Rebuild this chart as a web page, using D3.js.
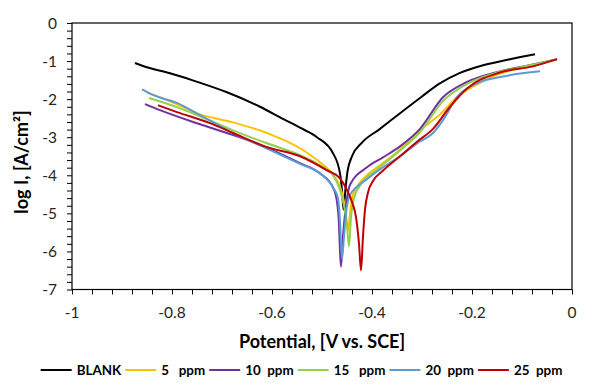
<!DOCTYPE html>
<html><head><meta charset="utf-8">
<script src="https://cdn.jsdelivr.net/npm/d3@7"></script>
<style>body{margin:0;background:#fff}text{font-family:Lato,"Open Sans",sans-serif}</style>
</head><body><svg id="c" width="600" height="389"></svg>
<script>
const seriesNames = ["BLANK", "5   ppm", "10  ppm", "15   ppm", "20  ppm", "25  ppm"];
const seriesColors = ["#000000", "#FFC000", "#7030A0", "#92D050", "#5B9BD5", "#C00000"];

const blankE = [-0.874,-0.858,-0.804,-0.76,-0.69,-0.624,-0.578,-0.544,-0.51,-0.478,-0.464,-0.46,-0.457,-0.453,-0.449,-0.44,-0.42,-0.386,-0.34,-0.3,-0.266,-0.224,-0.178,-0.124,-0.074];
const blankLog = [-1.05,-1.13,-1.32,-1.5,-1.82,-2.2,-2.52,-2.75,-3.0,-3.42,-3.95,-4.4,-4.9,-4.35,-3.9,-3.5,-3.14,-2.8,-2.33,-1.93,-1.6,-1.31,-1.11,-0.95,-0.82];

const ppm5E = [-0.85,-0.8,-0.744,-0.678,-0.61,-0.544,-0.504,-0.478,-0.464,-0.456,-0.452,-0.448,-0.444,-0.44,-0.43,-0.41,-0.378,-0.344,-0.304,-0.264,-0.224,-0.184,-0.144,-0.09,-0.03];
const ppm5Log = [-1.82,-2.08,-2.4,-2.61,-2.89,-3.29,-3.66,-3.98,-4.3,-4.7,-5.1,-5.45,-5.0,-4.6,-4.3,-4.0,-3.68,-3.32,-2.82,-2.4,-1.88,-1.57,-1.33,-1.15,-0.95];

const ppm10E = [-0.854,-0.824,-0.758,-0.69,-0.624,-0.544,-0.504,-0.478,-0.47,-0.466,-0.464,-0.462,-0.458,-0.452,-0.444,-0.41,-0.378,-0.344,-0.304,-0.258,-0.21,-0.144,-0.09,-0.03];
const ppm10Log = [-2.13,-2.29,-2.6,-2.89,-3.2,-3.68,-3.95,-4.32,-4.7,-5.3,-6.0,-6.4,-5.6,-4.8,-4.25,-3.79,-3.53,-3.24,-2.78,-1.95,-1.55,-1.27,-1.12,-0.95];

const ppm15E = [-0.846,-0.79,-0.744,-0.678,-0.61,-0.544,-0.504,-0.478,-0.464,-0.456,-0.45,-0.446,-0.442,-0.436,-0.42,-0.39,-0.344,-0.304,-0.258,-0.21,-0.144,-0.09,-0.035];
const ppm15Log = [-1.97,-2.21,-2.45,-2.82,-3.16,-3.47,-3.74,-4.0,-4.39,-4.8,-5.3,-5.87,-5.1,-4.6,-4.2,-3.85,-3.35,-2.87,-2.05,-1.6,-1.28,-1.13,-0.97];

const ppm20E = [-0.86,-0.838,-0.79,-0.744,-0.678,-0.61,-0.544,-0.504,-0.478,-0.468,-0.464,-0.46,-0.456,-0.452,-0.445,-0.43,-0.41,-0.378,-0.344,-0.31,-0.278,-0.258,-0.23,-0.19,-0.144,-0.064];
const ppm20Log = [-1.74,-1.89,-2.1,-2.42,-2.89,-3.3,-3.7,-3.95,-4.32,-4.6,-5.2,-6.2,-5.6,-5.0,-4.55,-4.3,-4.1,-3.79,-3.5,-3.16,-2.89,-2.55,-1.95,-1.58,-1.42,-1.27];

const ppm25E = [-0.828,-0.79,-0.724,-0.678,-0.61,-0.544,-0.49,-0.464,-0.45,-0.44,-0.432,-0.426,-0.422,-0.418,-0.414,-0.408,-0.398,-0.38,-0.344,-0.31,-0.278,-0.244,-0.21,-0.144,-0.078,-0.03];
const ppm25Log = [-2.16,-2.34,-2.63,-2.89,-3.26,-3.5,-3.87,-4.08,-4.39,-4.7,-5.1,-5.8,-6.5,-5.6,-4.9,-4.45,-4.15,-3.9,-3.5,-3.12,-2.78,-2.2,-1.72,-1.3,-1.14,-0.95];

const xTickValues = [-1, -0.8, -0.6, -0.4, -0.2, 0];
const xTickLabels = ["-1", "-0.8", "-0.6", "-0.4", "-0.2", "0"];
const yTickValues = [0, -1, -2, -3, -4, -5, -6, -7];
const yTickLabels = ["0", "-1", "-2", "-3", "-4", "-5", "-6", "-7"];

const seriesE = [blankE, ppm5E, ppm10E, ppm15E, ppm20E, ppm25E];
const seriesLog = [blankLog, ppm5Log, ppm10Log, ppm15Log, ppm20Log, ppm25Log];

const svg = d3.select("#c");
const L = 72, R = 572, T = 23, B = 289.5;
const x = d3.scaleLinear().domain([-1, 0]).range([L, R]);
const y = d3.scaleLinear().domain([0, -7]).range([T, B]);

// minor ticks
const xMinor = d3.range(0, 26).map(i => -1 + i * 0.04);
const yMinor = d3.range(0, 36).map(i => -i * 0.2);
const xAxis = d3.axisBottom(x).tickValues(xMinor).tickSize(5).tickFormat("");
const yAxis = d3.axisLeft(y).tickValues(yMinor).tickSize(5).tickFormat("");
const gx = svg.append("g").attr("transform", `translate(0,${B})`).call(xAxis);
const gy = svg.append("g").attr("transform", `translate(${L},0)`).call(yAxis);
[gx, gy].forEach(g => { g.select(".domain").remove(); g.selectAll("line").attr("stroke", "#000").attr("stroke-width", 1); });

// frame
svg.append("rect").attr("x", L).attr("y", T).attr("width", R - L).attr("height", B - T)
  .attr("fill", "none").attr("stroke", "#000").attr("stroke-width", 1.2);

// tick labels
svg.append("g").selectAll("text").data(xTickValues).join("text")
  .attr("x", d => x(d)).attr("y", 318).attr("text-anchor", "middle")
  .attr("font-size", 15.5).attr("fill", "#262626").text((d, i) => xTickLabels[i]);
svg.append("g").selectAll("text").data(yTickValues).join("text")
  .attr("x", 57).attr("y", d => y(d) + 5.5).attr("text-anchor", "end")
  .attr("font-size", 15.5).attr("fill", "#262626").text((d, i) => yTickLabels[i]);

// titles
svg.append("text").attr("x", 322).attr("y", 348).attr("text-anchor", "middle")
  .attr("font-size", 18).attr("font-weight", "bold").attr("fill", "#000").text("Potential, [V vs. SCE]");
svg.append("text").attr("transform", `translate(28,162) rotate(-90)`).attr("text-anchor", "middle")
  .attr("font-size", 18).attr("font-weight", "bold").attr("fill", "#000").text("log I, [A/cm²]");

// series
const line = d3.line().x(d => x(d[0])).y(d => y(d[1])).curve(d3.curveMonotoneX);
const plot = svg.append("g");
seriesE.forEach((es, i) => {
  const pts = es.map((e, j) => [e, seriesLog[i][j]]);
  plot.append("path").attr("d", line(pts)).attr("fill", "none")
    .attr("stroke", seriesColors[i]).attr("stroke-width", 2).attr("stroke-linejoin", "round");
});

// legend
const lg = svg.append("g");
let cx = 0;
seriesNames.forEach((n, i) => {
  const g = lg.append("g");
  g.append("line").attr("x1", cx).attr("x2", cx + 31).attr("y1", 0).attr("y2", 0)
    .attr("stroke", seriesColors[i]).attr("stroke-width", 2);
  const t = g.append("text").attr("x", cx + 36).attr("y", 5).attr("font-size", 13.4)
    .attr("font-weight", "bold").attr("fill", "#000").style("white-space", "pre").text(n);
  cx += 36 + t.node().getComputedTextLength() + 4;
});
const total = cx - 4;
lg.attr("transform", `translate(${301.5 - total / 2},370)`);
</script></body></html>
